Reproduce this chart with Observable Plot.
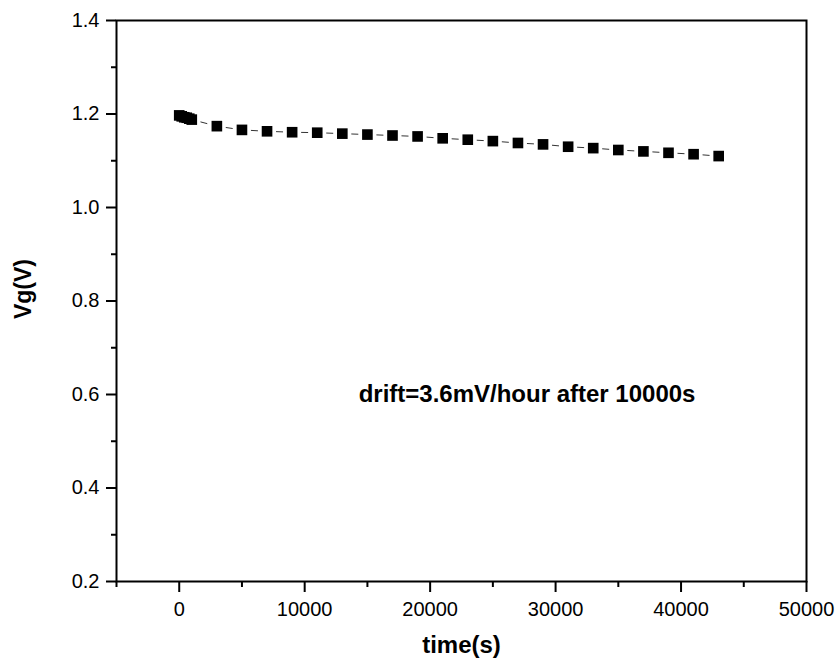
<!DOCTYPE html>
<html>
<head>
<meta charset="utf-8">
<script src="https://cdn.jsdelivr.net/npm/d3@7"></script>
<script src="https://cdn.jsdelivr.net/npm/@observablehq/plot@0.6"></script>
<style>
  html, body { margin: 0; padding: 0; background: #fff; }
</style>
</head>
<body>
<div id="chart"></div>
<script>
// Data
const time = [0, 200, 400, 600, 800, 1000,
  3000, 5000, 7000, 9000, 11000, 13000, 15000, 17000, 19000, 21000,
  23000, 25000, 27000, 29000, 31000, 33000, 35000, 37000, 39000, 41000, 43000];
const vg = [1.197, 1.195, 1.193, 1.192, 1.190, 1.188,
  1.174, 1.166, 1.163, 1.161, 1.160, 1.158, 1.156, 1.154, 1.152, 1.148,
  1.145, 1.142, 1.138, 1.135, 1.130, 1.127, 1.123, 1.120, 1.117, 1.114, 1.110];

const xMajorTicks = [0, 10000, 20000, 30000, 40000, 50000];
const xMinorTicks = [-5000, 5000, 15000, 25000, 35000, 45000];
const yMajorTicks = [0.2, 0.4, 0.6, 0.8, 1.0, 1.2, 1.4];
const yMinorTicks = [0.3, 0.5, 0.7, 0.9, 1.1, 1.3];

const xTitle = "time(s)";
const yTitle = "Vg(V)";
const note = {t: 14300, v: 0.6, text: "drift=3.6mV/hour after 10000s"};

const points = time.map((t, i) => ({t, v: vg[i]}));
const pairs = points.slice(1).map((p, i) => ({t1: points[i].t, v1: points[i].v, t2: p.t, v2: p.v}));

const font = "'Liberation Sans', Arial, Helvetica, sans-serif";

const chart = Plot.plot({
  width: 839,
  height: 662,
  marginLeft: 116,
  marginRight: 33,
  marginTop: 20,
  marginBottom: 81,
  style: {fontFamily: font, background: "#fff", color: "#000"},
  x: {domain: [-5000, 50000]},
  y: {domain: [0.2, 1.4]},
  marks: [
    Plot.link(pairs, {x1: "t1", y1: "v1", x2: "t2", y2: "v2", stroke: "#333", strokeWidth: 1, strokeDasharray: "0 9 7 1000"}),
    Plot.dot(points, {x: "t", y: "v", symbol: "square", r: 6, fill: "#000", stroke: "none"}),
    Plot.axisX({ticks: xMajorTicks, tickSize: 11, tickPadding: 9, fontSize: 20, strokeWidth: 2, tickFormat: d => String(d), label: null}),
    Plot.axisX({ticks: xMinorTicks, tickSize: 6, strokeWidth: 2, text: null, label: null}),
    Plot.axisY({ticks: yMajorTicks, tickSize: 10, tickPadding: 7, fontSize: 20, strokeWidth: 2, tickFormat: d3.format(".1f"), label: null}),
    Plot.axisY({ticks: yMinorTicks, tickSize: 5, strokeWidth: 2, text: null, label: null}),
    Plot.frame({stroke: "#000", strokeWidth: 2}),
    Plot.text([xTitle], {frameAnchor: "bottom", lineAnchor: "middle", dy: 64, fontSize: 24, fontWeight: "bold", fill: "#000"}),
    Plot.text([yTitle], {frameAnchor: "left", textAnchor: "middle", lineAnchor: "middle", dx: -93, dy: -12, rotate: -90, fontSize: 23, fontWeight: "bold", fill: "#000"}),
    Plot.text([note], {x: "t", y: "v", text: "text", textAnchor: "start", lineAnchor: "middle", fontSize: 24, fontWeight: "bold", fill: "#000"})
  ]
});
document.getElementById("chart").appendChild(chart);
</script>
</body>
</html>
